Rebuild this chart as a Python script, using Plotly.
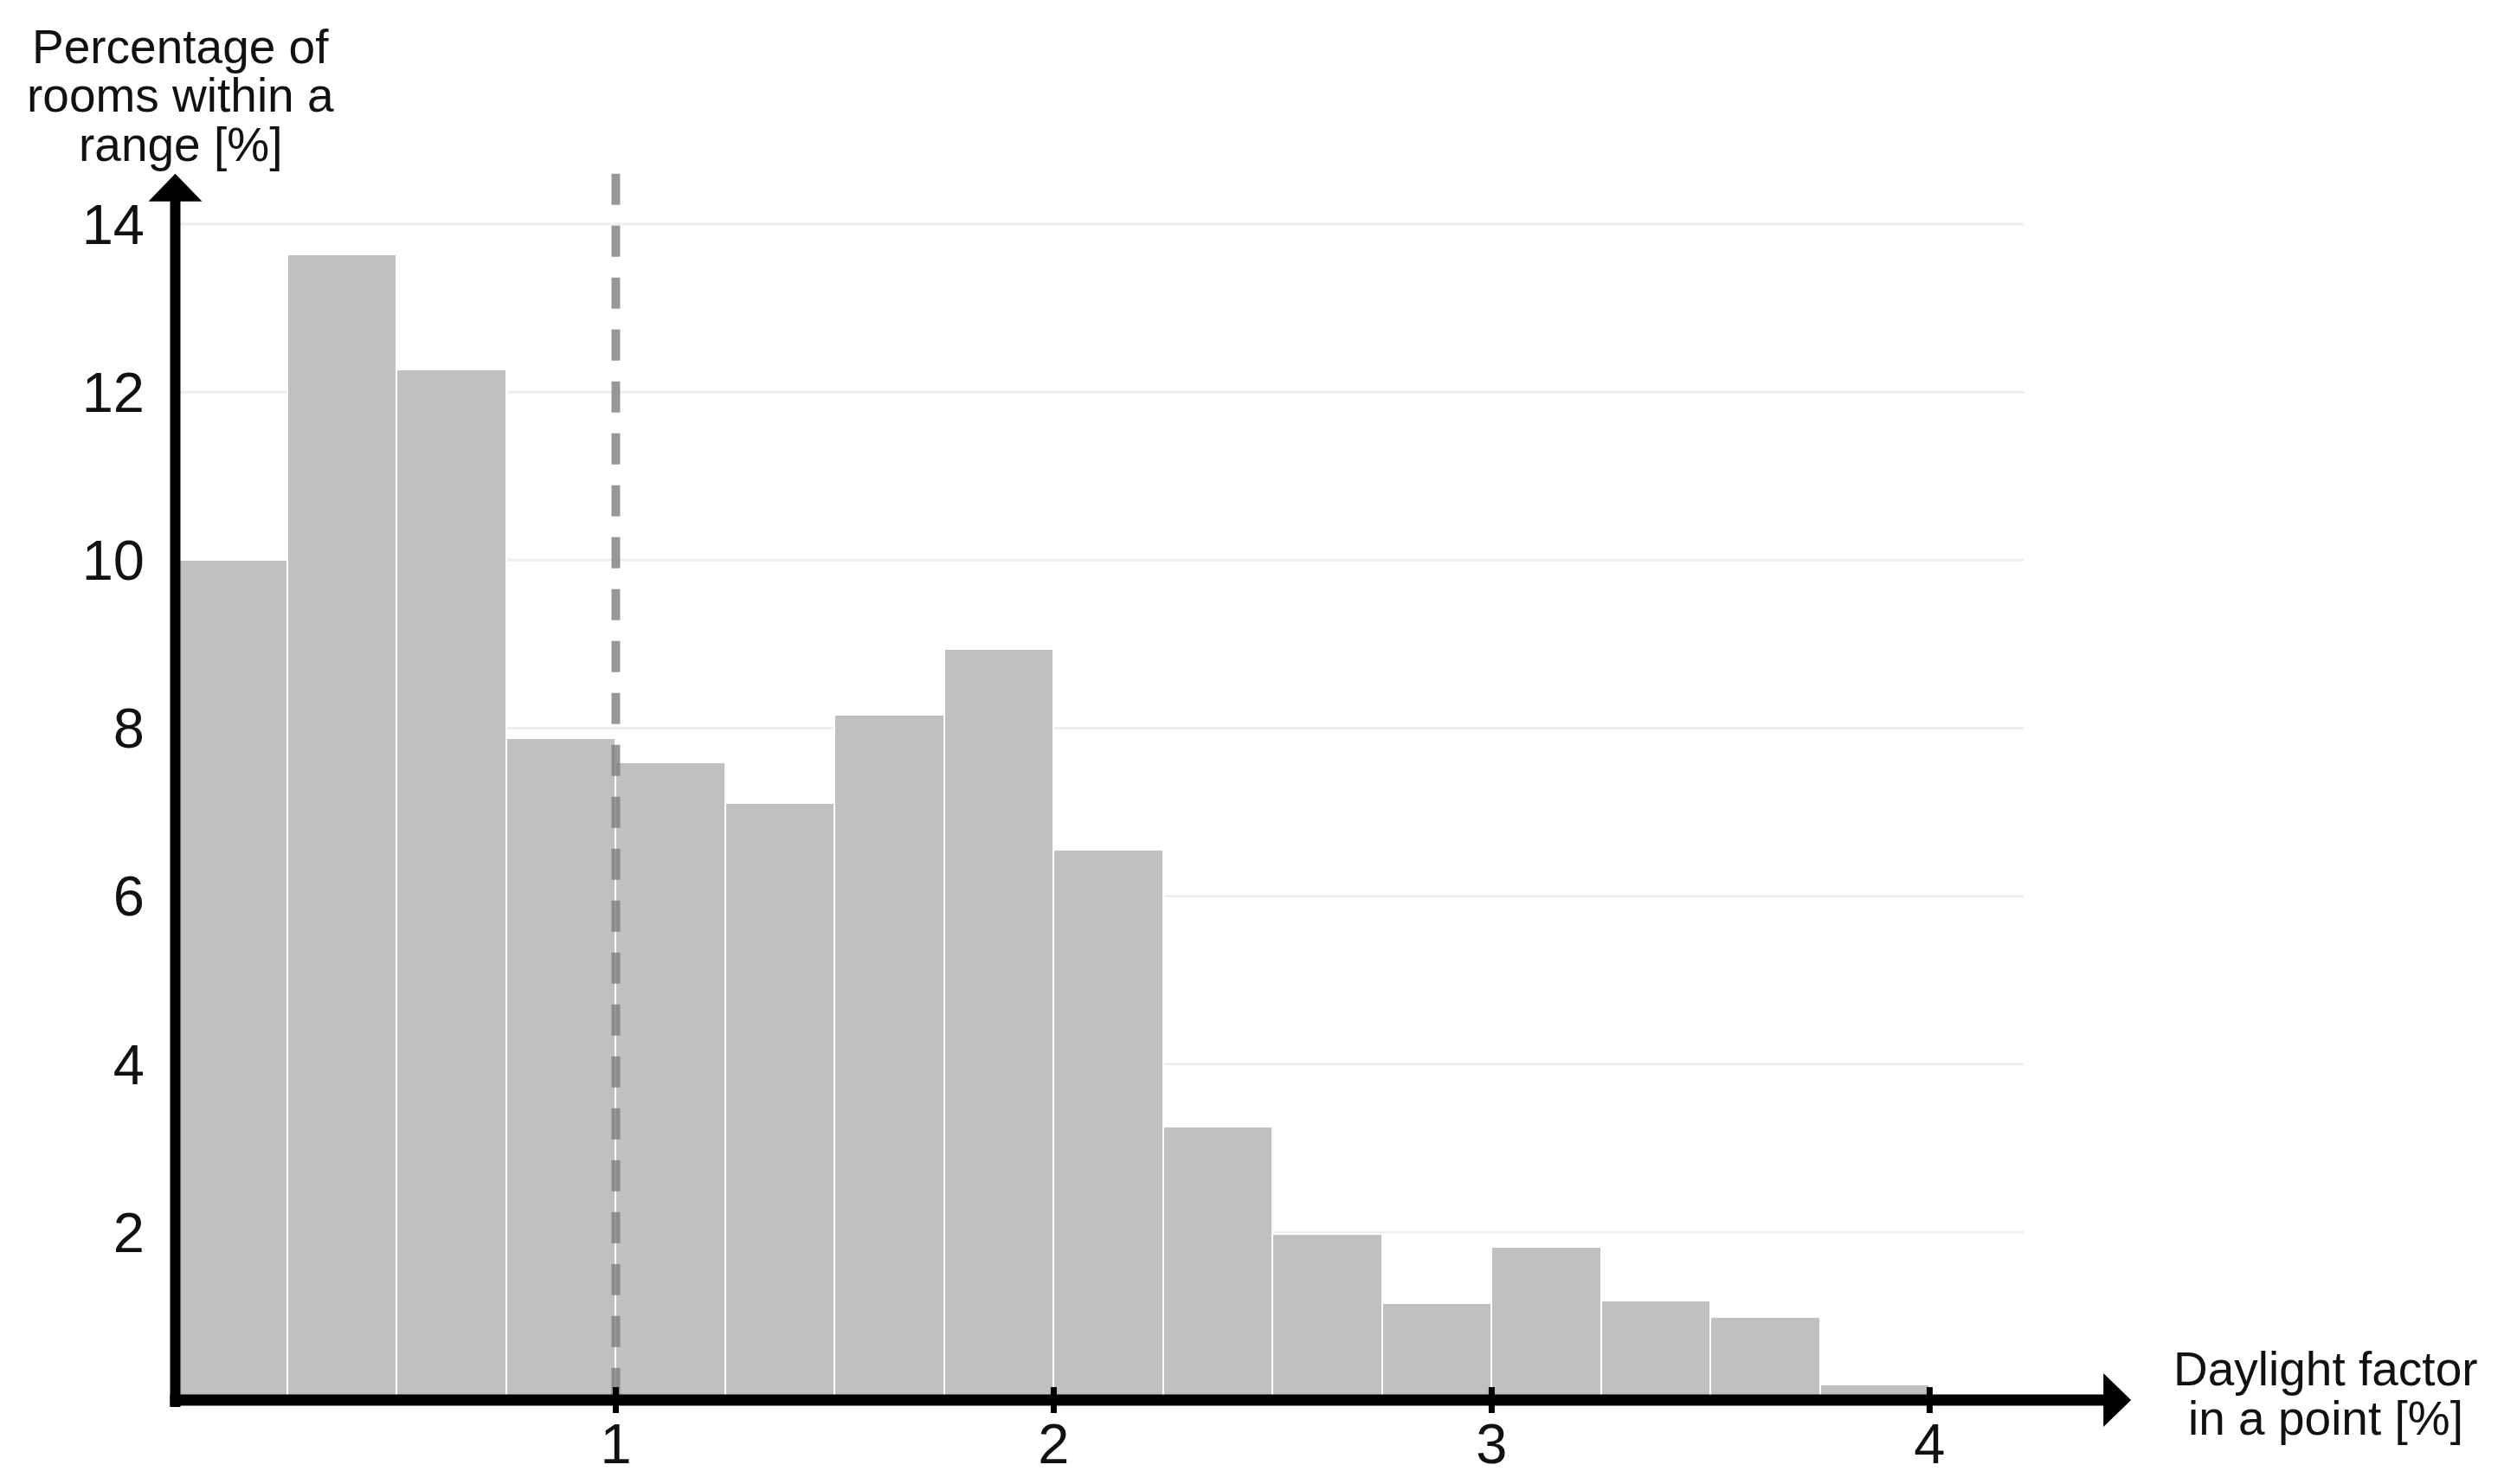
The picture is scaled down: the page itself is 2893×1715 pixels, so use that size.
import plotly.graph_objects as go

# ---------------- data ----------------
bin_left = [0.0, 0.25, 0.5, 0.75, 1.0, 1.25, 1.5, 1.75,
            2.0, 2.25, 2.5, 2.75, 3.0, 3.25, 3.5, 3.75]
bin_width = 0.25
pct_rooms = [10.0, 13.64, 12.27, 7.88, 7.59, 7.11, 8.16, 8.94,
             6.55, 3.26, 1.98, 1.15, 1.82, 1.18, 0.99, 0.19]
x_ticks = [1, 2, 3, 4]
y_ticks = [2, 4, 6, 8, 10, 12, 14]
threshold = 1.0

# ---------------- layout constants ----------------
# page has an 8px body margin, so the figure is 16px smaller and shifted
W, H = 2893 - 16, 1715 - 16
XMIN, XMAX = -0.08, 4.6
YMIN, YMAX = -0.35, 15.0
UX, UY = 506.0, 97.1           # px per unit
X0PX, Y0PX = 197.0, 1610.0     # figure pixel of the data origin
L = X0PX + XMIN * UX
R = W - (X0PX + XMAX * UX)
T = Y0PX - YMAX * UY
B = H - (Y0PX - YMIN * UY)

FONT = "Liberation Sans, Arial, Helvetica, sans-serif"
BAR_COLOR = "#c1c0c1"

x_arrow_tip = 4.46
y_arrow_tip = 14.6
head_len, head_half = 32, 31
grid_end = 4.215


def px(v):  # data x -> paper
    return (v - XMIN) / (XMAX - XMIN)


def py(v):  # data y -> paper
    return (v - YMIN) / (YMAX - YMIN)


centers = [b + bin_width / 2 for b in bin_left]

fig = go.Figure()
fig.add_trace(go.Bar(
    x=centers, y=pct_rooms, width=[bin_width] * len(centers),
    marker=dict(color=BAR_COLOR, line=dict(color="white", width=2)),
    hoverinfo="skip", showlegend=False,
))

shapes = []
for v in y_ticks:
    shapes.append(dict(type="line", xref="x", yref="y", x0=0, x1=grid_end, y0=v, y1=v,
                       line=dict(color="#efefef", width=3), layer="below"))
shapes.append(dict(type="line", xref="x", yref="y", x0=threshold, x1=threshold,
                   y0=y_arrow_tip, y1=0,
                   line=dict(color="rgba(122,125,129,0.8)", width=10, dash="36px,24px"),
                   layer="above"))
shapes.append(dict(type="line", xref="x", yref="y",
                   x0=-9 / UX, x1=x_arrow_tip - (head_len - 2) / UX, y0=0, y1=0,
                   line=dict(color="black", width=13), layer="above"))
shapes.append(dict(type="line", xref="x", yref="y",
                   x0=-3 / UX, x1=-3 / UX, y0=-8 / UY, y1=y_arrow_tip - (head_len - 2) / UY,
                   line=dict(color="black", width=12), layer="above"))
shapes.append(dict(type="path", xref="x", yref="y", xsizemode="pixel", ysizemode="pixel",
                   xanchor=x_arrow_tip, yanchor=0,
                   path=f"M 0 0 L {-head_len} {head_half} L {-head_len} {-head_half} Z",
                   fillcolor="black", line=dict(width=0), layer="above"))
shapes.append(dict(type="path", xref="x", yref="y", xsizemode="pixel", ysizemode="pixel",
                   xanchor=-3 / UX, yanchor=y_arrow_tip,
                   path=f"M 0 0 L {-head_half} {-head_len} L {head_half} {-head_len} Z",
                   fillcolor="black", line=dict(width=0), layer="above"))
for v in x_ticks:
    shapes.append(dict(type="line", xref="x", yref="y", ysizemode="pixel", yanchor=0,
                       x0=v, x1=v, y0=-15, y1=15,
                       line=dict(color="black", width=7), layer="above"))

annotations = []
for txt, yy in [("Percentage of", 16.11), ("rooms within a", 15.54), ("range [%]", 14.95)]:
    annotations.append(dict(text=txt, x=px(3 / UX), y=py(yy), xref="paper", yref="paper",
                            showarrow=False, xanchor="center", yanchor="middle",
                            font=dict(family=FONT, size=55, color="#111111")))
for txt, yy in [("Daylight factor", 0.376), ("in a point [%]", -0.211)]:
    annotations.append(dict(text=txt, x=px(4.905), y=py(yy), xref="paper", yref="paper",
                            showarrow=False, xanchor="center", yanchor="middle",
                            font=dict(family=FONT, size=55, color="#111111")))

fig.update_layout(
    width=W, height=H,
    margin=dict(l=L, r=R, t=T, b=B, pad=0, autoexpand=False),
    paper_bgcolor="white", plot_bgcolor="white",
    bargap=0,
    shapes=shapes, annotations=annotations,
    font=dict(family=FONT, color="#111111"),
    xaxis=dict(range=[XMIN, XMAX], tickvals=x_ticks, ticktext=[str(v) for v in x_ticks],
               showgrid=False, zeroline=False, showline=False, ticks="",
               tickfont=dict(family=FONT, size=65, color="#111111"),
               ticklabelstandoff=-27, fixedrange=True),
    yaxis=dict(range=[YMIN, YMAX], tickvals=y_ticks, ticktext=[str(v) for v in y_ticks],
               showgrid=False, zeroline=False, showline=False, ticks="",
               tickfont=dict(family=FONT, size=65, color="#111111"),
               ticklabelstandoff=-3, fixedrange=True),
)

fig.write_html("out.html")
